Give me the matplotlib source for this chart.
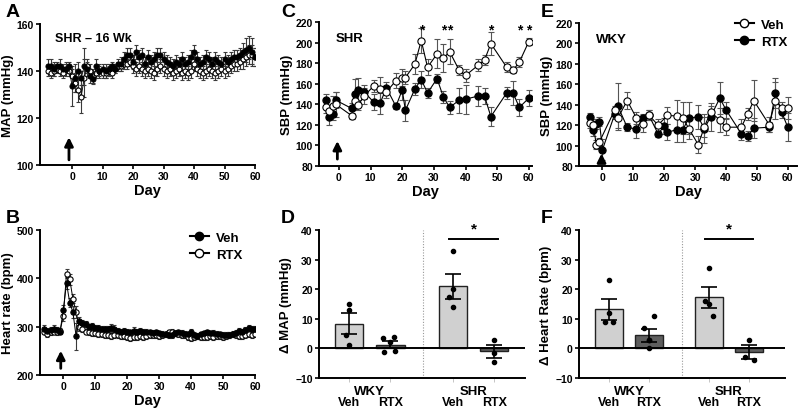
import numpy as np
import matplotlib
matplotlib.use("Agg")
import matplotlib.pyplot as plt
from matplotlib.lines import Line2D
from matplotlib.transforms import blended_transform_factory

plt.rcParams['font.family'] = ['Liberation Sans', 'DejaVu Sans']
plt.rcParams['font.weight'] = 'bold'
plt.rcParams['axes.labelweight'] = 'bold'

# ---------------- Panel A : MAP SHR 16 wk ----------------
days_A = list(range(-8, 61))
map_veh = [142,142,141,142,142,141,141,142,133.5,137,140,137,142,141,138,136.5,142,140,141,140,141,142,141,143,143,145,147,147,144,148,146,147,143,146,144,145,147,147,145,144,143,142,144,143,145,143,144,146,148,145,143,144,146,145,143,145,144,143,145,144,145,146,146,147,148,149,150,148,146]
map_veh_err = [3,3,3,2,3,2,3,2,8.5,6,4,3,8,3,3,2,3,3,2,3,2,2,2,2,3,3,3,3,3,3,3,3,3,3,3,3,3,3,3,3,3,3,3,3,3,3,3,3,3,3,3,3,3,3,3,3,3,3,3,3,3,3,3,3,4,5,5,6,4]
map_rtx = [140,139,140,141,140,139,141,140,138,135,132,129,137,142,140,138,139,140,139,139,140,139,141,142,142,143,143,144,142,141,142,141,140,141,140,139,141,142,141,140,141,139,140,141,139,140,139,140,143,141,140,139,140,141,140,139,140,141,140,141,142,143,143,144,145,146,147,147,146]
map_rtx_err = [2,2,2,2,2,2,2,2,3,4,5,7,8,3,3,3,2,2,2,2,2,2,2,2,2,2,2,2,3,3,3,3,3,3,3,3,3,3,3,3,3,3,3,3,3,3,3,3,3,3,3,3,3,3,3,3,3,3,3,3,3,3,3,3,4,4,4,4,4]

# ---------------- Panel B : Heart rate ----------------
days_B = list(range(-6, 61))
hr_veh = [295,292,294,296,293,290,335,390,350,330,280,312,308,305,300,302,298,298,296,295,296,298,295,292,290,292,290,288,292,290,291,289,290,288,287,288,286,285,284,282,283,286,288,287,285,284,290,283,280,284,286,288,286,287,285,284,283,282,283,285,287,292,290,293,298,296,295]
hr_veh_err = [8,6,6,8,6,5,10,12,10,12,28,8,6,6,6,6,6,6,6,6,6,8,8,6,6,6,6,6,8,6,6,6,6,6,6,6,6,6,6,6,6,6,6,6,6,6,6,6,6,6,6,6,6,6,6,6,6,6,6,6,6,6,6,6,6,6,6]
hr_rtx = [290,285,288,290,289,292,322,410,398,358,330,300,295,290,288,287,286,285,284,282,283,281,283,282,281,280,279,276,278,279,280,278,281,282,283,282,281,282,284,288,290,286,284,283,282,279,277,278,280,279,278,279,280,279,280,281,279,280,282,284,283,280,281,283,285,282,284]
hr_rtx_err = [6,6,6,6,6,6,10,10,12,10,12,8,6,6,6,6,6,6,6,6,6,6,6,6,6,6,6,6,6,6,6,6,6,6,6,6,6,6,6,6,6,6,6,6,6,6,6,6,6,6,6,6,6,6,6,6,6,6,6,6,6,6,6,6,6,6,6]

# ---------------- Panel C : SBP SHR ----------------
days_C = [-4,-3,-2,-1,4,5,6,8,11,13,15,18,20,21,24,26,28,31,33,35,38,40,44,46,48,53,55,57,60]
sbp_shr_veh = [137,133,138,140,129,143,139,148,158,155,152,163,166,166,179,202,176,189,185,191,173,168,178,183,199,176,173,181,201]
sbp_shr_veh_err = [5,6,10,12,3,8,5,8,6,12,6,7,8,6,10,12,8,14,14,12,5,6,6,5,11,5,3,5,3]
sbp_shr_rtx = [144,128,131,144,136,150,154,152,142,141,156,138,154,134,155,164,151,165,147,137,144,145,148,148,128,151,151,137,146]
sbp_shr_rtx_err = [6,8,6,8,5,15,12,7,8,10,6,3,10,10,6,8,5,4,6,6,12,14,10,8,9,6,12,8,8]
star_days_C = [26,33,35,48,57,60]

# ---------------- Panel E : SBP WKY ----------------
days_E_veh = [-4,-3,-2,-1,4,5,8,11,13,15,18,21,24,26,28,31,33,35,38,40,45,47,49,54,56,58,60]
sbp_wky_veh = [122,120,101,103.5,135,127,144,127,121.5,130,120,129.5,129,127,116.5,101,118,133,125,118,118,131,144,120.5,144,137,137]
sbp_wky_veh_err = [5,6,4,4,4,10,8,6,8,5,6,8,16,16,10,8,10,6,12,8,8,6,20,7,18,6,11]
days_E_rtx = [-4,-3,-2,-1,0,4,5,8,11,13,15,18,20,21,24,26,28,31,33,35,38,40,45,47,49,54,56,58,60]
sbp_wky_rtx = [128,115,121,123.5,96,131,138.5,118,116,127,130,111.5,119,113,115.5,115.5,127,128,116.5,128,146.5,135,111.5,109,117,118,151.5,133,118]
sbp_wky_rtx_err = [4,6,5,4,10,5,23,4,9,4,5,3,8,8,12,12,16,12,14,14,16,8,6,5,10,5,15,6,14]

# ---------------- Panels D and F : bars ----------------
bar_groups = ['WKY', 'SHR']
bar_labels = ['Veh', 'RTX', 'Veh', 'RTX']
dmap_mean = [8.3, 1.2, 21.0, -1.0]
dmap_sem = [3.5, 1.2, 4.2, 2.2]
dmap_pts = [[15, 13, 4.5, 1], [3.5, 4, 2, -1.2, -1], [33, 20, 17.5, 14], [3, -1.5, -4.5]]
dhr_mean = [13.2, 4.5, 17.2, -1.2]
dhr_sem = [3.5, 2.2, 3.5, 2.3]
dhr_pts = [[23, 12, 9, 9], [11, 7, 3, 3, 0], [27, 15, 16, 11], [3, -3, -4]]

W, H = 800, 410
fig = plt.figure(figsize=(W/100, H/100), dpi=100)

def rect(l, r, t, b):
    return [l/W, 1-b/H, (r-l)/W, (b-t)/H]

TICK_FS = 7.5
LAB_FS = 9.5

def style(ax):
    for s in ['top', 'right']:
        ax.spines[s].set_visible(False)
    for s in ['left', 'bottom']:
        ax.spines[s].set_linewidth(1.4)
    ax.tick_params(direction='out', length=3, width=1.2, labelsize=TICK_FS, pad=1.5)
    for lab in ax.get_xticklabels() + ax.get_yticklabels():
        lab.set_fontweight('bold')

def series(ax, x, y, e, filled, ms, lw=0.8, cap=2, ecol='#3a3a3a'):
    ax.errorbar(x, y, yerr=e, fmt='none', ecolor=ecol, elinewidth=0.8, capsize=cap, capthick=0.8, zorder=2)
    ax.plot(x, y, color='k', lw=lw, zorder=3, marker='o', ms=ms,
            mfc='k' if filled else 'white', mec='k', mew=0.8)

def arrow(ax, x, y0, y1):
    ax.annotate('', xy=(x, y1), xytext=(x, y0),
                arrowprops=dict(arrowstyle='-|>,head_width=0.25,head_length=0.5', color='k', lw=2))

# Panel A
axA = fig.add_axes(rect(40, 255, 25, 166))
series(axA, days_A, map_rtx, map_rtx_err, False, 3.6, lw=0.6, cap=1.5)
series(axA, days_A, map_veh, map_veh_err, True, 3.6, lw=0.6, cap=1.5)
axA.set_xlim(-10.5, 60)
axA.set_ylim(100, 160)
axA.set_yticks([100, 120, 140, 160])
axA.set_xticks(range(0, 61, 10))
axA.set_ylabel('MAP (mmHg)', fontsize=LAB_FS, labelpad=2)
axA.set_xlabel('Day', fontsize=LAB_FS+1, labelpad=1)
axA.text(0.07, 0.94, 'SHR – 16 Wk', transform=axA.transAxes, fontsize=9, fontweight='bold', va='top')
arrow(axA, -1, 101, 113)
style(axA)

# Panel B
axB = fig.add_axes(rect(40, 255, 231, 376))
series(axB, days_B, hr_rtx, hr_rtx_err, False, 3.8, lw=0.7, cap=1.5)
series(axB, days_B, hr_veh, hr_veh_err, True, 3.8, lw=0.7, cap=1.5)
axB.set_xlim(-7.3, 60)
axB.set_ylim(200, 500)
axB.set_yticks([200, 300, 400, 500])
axB.set_xticks(range(0, 61, 10))
axB.set_ylabel('Heart rate (bpm)', fontsize=LAB_FS, labelpad=2)
axB.set_xlabel('Day', fontsize=LAB_FS+1, labelpad=1)
arrow(axB, -0.8, 208, 256)
hB = [Line2D([], [], color='k', lw=1.5, marker='o', ms=6, mfc='k', mec='k'),
      Line2D([], [], color='k', lw=1.5, marker='o', ms=6, mfc='white', mec='k')]
legB = axB.legend(hB, ['Veh', 'RTX'], loc='upper left', bbox_to_anchor=(183/W, 1-226/H),
                  bbox_transform=fig.transFigure, frameon=False, fontsize=9.5, handlelength=1.5,
                  handletextpad=0.5, labelspacing=0.35, borderpad=0)
for t in legB.get_texts():
    t.set_fontweight('bold')
style(axB)

# Panel C
axC = fig.add_axes(rect(319, 532, 23, 167))
series(axC, days_C, sbp_shr_rtx, sbp_shr_rtx_err, True, 5.2, cap=2.5, ecol='#555555')
series(axC, days_C, sbp_shr_veh, sbp_shr_veh_err, False, 5.2, cap=2.5, ecol='#555555')
axC.set_xlim(-6.3, 61)
axC.set_ylim(80, 220)
axC.set_yticks(range(80, 221, 20))
axC.set_xticks(range(0, 61, 10))
axC.set_ylabel('SBP (mmHg)', fontsize=LAB_FS, labelpad=2)
axC.set_xlabel('Day', fontsize=LAB_FS+1, labelpad=1)
axC.text(0.08, 0.93, 'SHR', transform=axC.transAxes, fontsize=9.5, fontweight='bold', va='top')
for d in star_days_C:
    axC.text(d, 213, '*', ha='center', va='center', fontsize=10, fontweight='bold')
arrow(axC, -0.5, 84, 107)
style(axC)

# Panel E
axE = fig.add_axes(rect(579, 797, 24, 167))
arrow(axE, -0.3, 81, 95)
series(axE, days_E_rtx, sbp_wky_rtx, sbp_wky_rtx_err, True, 5.2, cap=2.5, ecol='#555555')
series(axE, days_E_veh, sbp_wky_veh, sbp_wky_veh_err, False, 5.2, cap=2.5, ecol='#555555')
axE.set_xlim(-7.6, 63)
axE.set_ylim(80, 220)
axE.set_yticks(range(80, 221, 20))
axE.set_xticks(range(0, 61, 10))
axE.set_ylabel('SBP (mmHg)', fontsize=LAB_FS, labelpad=2)
axE.set_xlabel('Day', fontsize=LAB_FS+1, labelpad=1)
axE.text(0.08, 0.93, 'WKY', transform=axE.transAxes, fontsize=9.5, fontweight='bold', va='top')
hE = [Line2D([], [], color='k', lw=1.5, marker='o', ms=6, mfc='white', mec='k'),
      Line2D([], [], color='k', lw=1.5, marker='o', ms=6, mfc='k', mec='k')]
legE = axE.legend(hE, ['Veh', 'RTX'], loc='upper left', bbox_to_anchor=(728/W, 1-13/H),
                  bbox_transform=fig.transFigure, frameon=False, fontsize=9.5, handlelength=1.5,
                  handletextpad=0.5, labelspacing=0.35, borderpad=0)
for t in legE.get_texts():
    t.set_fontweight('bold')
style(axE)

# Bar panels
pos = [0, 1, 2.5, 3.5]
bar_colors = ['#d0d0d0', '#5e5e5e', '#d0d0d0', '#5e5e5e']
jit = {4: [0.0, 0.0, -0.08, 0.0], 5: [-0.18, 0.08, 0.0, -0.15, 0.12], 3: [0.0, 0.0, 0.0]}
jit_alt = {4: [0.0, 0.0, -0.1, 0.1], 5: [0.12, -0.12, 0.0, 0.0, 0.0], 3: [0.0, -0.1, 0.12]}

def bars(ax, means, sems, pts, ylabel, divider, jitters):
    ax.bar(pos, means, width=0.68, color=bar_colors, edgecolor='#222222', linewidth=1.0, zorder=2)
    ax.errorbar(pos, means, yerr=sems, fmt='none', ecolor='k', elinewidth=1.2, capsize=6, capthick=1.2, zorder=4)
    for p, vals in zip(pos, pts):
        offs = jitters[len(vals)]
        ax.scatter([p + o for o in offs], vals, s=9, color='k', zorder=5)
    ax.axhline(0, color='k', lw=1.4, zorder=3)
    ax.axvline(divider, color='#999999', lw=0.8, ls=(0, (1, 1.5)), zorder=1)
    ax.plot([pos[2] - 0.1, pos[3] + 0.1], [37, 37], color='k', lw=1.4)
    ax.text((pos[2] + pos[3]) / 2, 38, '*', ha='center', va='bottom', fontsize=11, fontweight='bold')
    ax.set_ylim(-10, 40)
    ax.set_yticks([-10, 0, 10, 20, 30, 40])
    ax.set_xticks(pos)
    ax.set_xticklabels(bar_labels, fontsize=9)
    ax.set_ylabel(ylabel, fontsize=LAB_FS, labelpad=2)
    style(ax)
    ax.tick_params(axis='x', length=3, width=0.6, color='#bbbbbb', pad=10, labelsize=9)
    for lab in ax.get_xticklabels():
        lab.set_fontweight('bold')
    tr = blended_transform_factory(ax.transData, ax.transAxes)
    for g, c in zip(bar_groups, [(pos[0] + pos[1]) / 2, (pos[2] + pos[3]) / 2]):
        ax.text(c, -0.045, g, transform=tr, ha='center', va='top', fontsize=9.5, fontweight='bold')

axD = fig.add_axes(rect(319, 525, 231, 379))
bars(axD, dmap_mean, dmap_sem, dmap_pts, 'Δ MAP (mmHg)', 1.78, jit)
axD.set_xlim(-0.72, 4.24)

axF = fig.add_axes(rect(579, 785, 231, 379))
bars(axF, dhr_mean, dhr_sem, dhr_pts, 'Δ Heart Rate (bpm)', 1.82, jit_alt)
axF.set_xlim(-0.75, 4.4)

# Panel letters
for letter, x, y in [('A', 6, 4), ('B', 6, 210), ('C', 281, 4), ('D', 281, 210), ('E', 541, 4), ('F', 541, 210)]:
    fig.text(x/W, 1-y/H, letter, fontsize=14, fontweight='bold', va='top', ha='left')

fig.savefig('out.png', dpi=100)
